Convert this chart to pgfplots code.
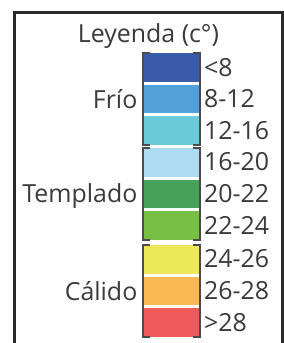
\documentclass[border=0pt]{standalone}
\usepackage{fontspec}
\setmainfont{Open Sans}
\usepackage{pgfplots}
\pgfplotsset{compat=1.18}
\definecolor{c1}{HTML}{3A5BAA}
\definecolor{c2}{HTML}{52A0DA}
\definecolor{c3}{HTML}{6BCBD9}
\definecolor{c4}{HTML}{AEDAF2}
\definecolor{c5}{HTML}{47A35A}
\definecolor{c6}{HTML}{77C043}
\definecolor{c7}{HTML}{EDE857}
\definecolor{c8}{HTML}{FBB954}
\definecolor{c9}{HTML}{F15A5A}
\definecolor{txt}{HTML}{3A3A3A}
\definecolor{frame}{HTML}{2A2A2A}
\definecolor{brk}{HTML}{4A4A4A}
\begin{document}
\begin{tikzpicture}
\begin{axis}[
  width=284bp, height=343bp, scale only axis,
  xmin=0, xmax=284, ymin=0, ymax=343, y dir=reverse,
  hide axis, clip=true,
]
% invisible extent
\addplot [draw=none, forget plot] coordinates {(0,0) (284,343)};
% frame
\addplot [draw=frame, line width=3bp, forget plot] coordinates {(14,350) (14,12.5) (282.5,12.5) (282.5,350)};
% bars: (x-left, y-top) ... 
\addplot [fill=c1, draw=none] coordinates {(143.5,53) (199.5,53) (199.5,81.7) (143.5,81.7)} --cycle;
\addplot [fill=c2, draw=none] coordinates {(143.5,84.7) (199.5,84.7) (199.5,113.3) (143.5,113.3)} --cycle;
\addplot [fill=c3, draw=none] coordinates {(143.5,116.3) (199.5,116.3) (199.5,145) (143.5,145)} --cycle;
\addplot [fill=c4, draw=none] coordinates {(143.5,148) (199.5,148) (199.5,176.7) (143.5,176.7)} --cycle;
\addplot [fill=c5, draw=none] coordinates {(143.5,179.7) (199.5,179.7) (199.5,208.3) (143.5,208.3)} --cycle;
\addplot [fill=c6, draw=none] coordinates {(143.5,211.3) (199.5,211.3) (199.5,240) (143.5,240)} --cycle;
\addplot [fill=c7, draw=none] coordinates {(143.5,245) (199.5,245) (199.5,273.7) (143.5,273.7)} --cycle;
\addplot [fill=c8, draw=none] coordinates {(143.5,276.7) (199.5,276.7) (199.5,305.3) (143.5,305.3)} --cycle;
\addplot [fill=c9, draw=none] coordinates {(143.5,308.3) (199.5,308.3) (199.5,337) (143.5,337)} --cycle;
% brackets
\addplot [draw=brk, line width=1.2bp] coordinates {(150,53) (143,53) (143,145) (150,145)};
\addplot [draw=brk, line width=1.2bp] coordinates {(193,53) (200,53) (200,145) (193,145)};
\addplot [draw=brk, line width=1.2bp] coordinates {(150,148) (143,148) (143,240) (150,240)};
\addplot [draw=brk, line width=1.2bp] coordinates {(193,148) (200,148) (200,240) (193,240)};
\addplot [draw=brk, line width=1.2bp] coordinates {(150,245) (143,245) (143,337) (150,337)};
\addplot [draw=brk, line width=1.2bp] coordinates {(193,245) (200,245) (200,337) (193,337)};
% texts
\begin{scope}[every node/.style={text=txt, inner sep=0pt, font=\fontsize{25}{30}\selectfont}]
\node[anchor=base] at (axis cs:148.5,42) {Leyenda (c°)};
\node[anchor=base west] at (axis cs:204,76) {<8};
\node[anchor=base west] at (axis cs:204,107.5) {8-12};
\node[anchor=base west] at (axis cs:204,139) {12-16};
\node[anchor=base west] at (axis cs:204,170.5) {16-20};
\node[anchor=base west] at (axis cs:204,202.5) {20-22};
\node[anchor=base west] at (axis cs:204,234) {22-24};
\node[anchor=base west] at (axis cs:204,267.5) {24-26};
\node[anchor=base west] at (axis cs:204,299.5) {26-28};
\node[anchor=base west] at (axis cs:204,331) {>28};
\node[anchor=base east] at (axis cs:137.5,108) {Frío};
\node[anchor=base east] at (axis cs:137.5,202.5) {Templado};
\node[anchor=base east] at (axis cs:137.5,300) {Cálido};
\end{scope}
\end{axis}
\end{tikzpicture}
\end{document}
